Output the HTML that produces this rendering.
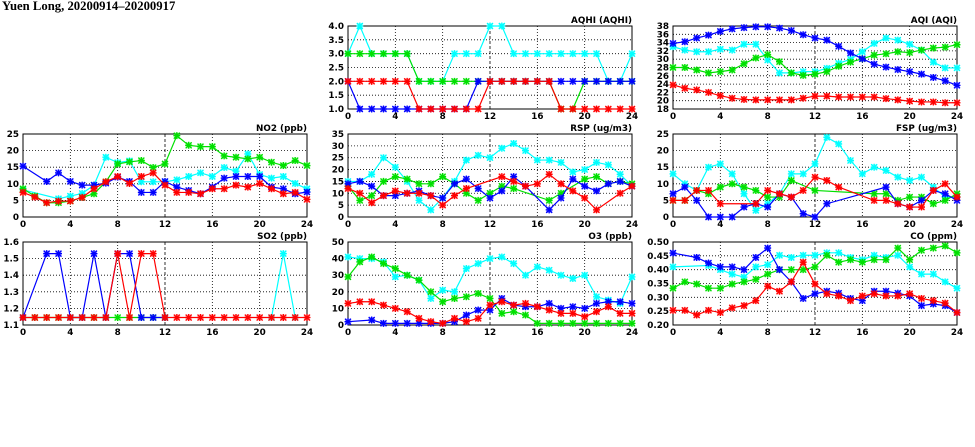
<!DOCTYPE html>
<html><head><meta charset="utf-8"><style>
body{margin:0;background:#fff;}
svg{display:block;}
text{font-family:"DejaVu Sans","Liberation Sans",sans-serif;font-weight:bold;font-size:8.8px;fill:#000;}
</style></head><body>
<svg id="s" width="975" height="447" xmlns="http://www.w3.org/2000/svg">
<text x="2" y="10" style="font-family:'Liberation Serif',serif;font-size:12.7px">Yuen Long, 20200914–20200917</text>
</svg>
<script>
const N=null;
const panels=[
{x0:348,y0:26,t:"AQHI (AQHI)",min:1,max:4,step:0.5,dec:1,s:{
c:[3,4,3,3,3,3,2,2,2,3,3,3,4,4,3,3,3,3,3,3,3,3,2,2,3],
g:[3,3,3,3,3,3,2,2,2,2,2,2,2,2,2,2,2,2,1,1,2,2,2,2,2],
b:[2,1,1,1,1,1,1,1,1,1,1,2,2,2,2,2,2,2,2,2,2,2,2,2,2],
r:[2,2,2,2,2,2,1,1,1,1,1,1,2,2,2,2,2,2,1,1,1,1,1,1,1]}},
{x0:673,y0:26,t:"AQI (AQI)",min:18,max:38,step:2,dec:0,s:{
b:[33.8,34.2,35.1,35.8,36.7,37.3,37.6,37.8,37.8,37.5,36.9,35.9,35.1,34.6,33.1,31.5,30.1,28.8,28.1,27.5,27,26.4,25.6,24.8,23.7],
c:[33,32.2,31.8,31.8,32.4,32.2,33.6,33.6,29.8,26.7,26.7,27,27,27.8,29,30,31.8,33.8,35.1,34.6,33.6,32.2,29.3,27.9,27.9],
g:[28,28,27.4,26.7,27,27.4,28.9,30.3,31.1,29.4,26.7,26.1,26.4,27,28.3,29.3,30.1,31,31.3,31.8,31.6,32.2,32.7,32.9,33.5],
r:[23.8,23,22.6,22,21.2,20.6,20.3,20.2,20.2,20.2,20.2,20.6,21.1,21.1,20.9,20.9,20.9,20.9,20.5,20.2,19.9,19.7,19.7,19.5,19.5]}},
{x0:23,y0:134,t:"NO2 (ppb)",min:0,max:25,step:5,dec:0,s:{
c:[8.2,N,N,5.5,6.3,7.1,9.6,18,16.4,16.9,10.6,10.6,10.6,11.2,12.2,13.3,12.2,14.9,13.8,19,12.8,11.7,12.2,10.1,8.5],
b:[15.3,N,10.7,13.3,10.7,9.6,9.6,10.2,12,10.7,7.4,7.4,10.7,9,8,7,9,11.7,12.2,12.2,12.2,9,8.5,7,7.5],
g:[8.5,6.3,4.3,4.3,4.8,5.9,7,10.6,16,16.6,17,14.9,16,24.5,21.6,21.2,21.2,18.4,18,17.5,18,16.5,15.5,17,15.5],
r:[7.4,6,4.3,4.8,4.8,5.9,8.5,10.6,12.2,10.1,12.2,13.3,9.6,7.4,7.4,7,8.5,8.5,9.6,9,10.1,8.5,7,7.4,5.3]}},
{x0:348,y0:134,t:"RSP (ug/m3)",min:0,max:35,step:5,dec:0,s:{
c:[15,15,18,25,21,15,7,3,8,15,24,26,25,29,31,28,24,24,23,19,20,23,22,18,13],
b:[14,15,13,9,9,10,11,9,8,14,16,12,8,11,17,13,N,3,8,16,13,11,14,15,13],
g:[13,7,9,15,17,16,14,14,17,14,10,7,10,13,12,N,N,7,10,N,16,17,14,15,14],
r:[12,10,6,9,11,10,10,9,5,9,12,N,N,17,15,13,14,18,14,11,8,3,N,10,13]}},
{x0:673,y0:134,t:"FSP (ug/m3)",min:0,max:25,step:5,dec:0,s:{
c:[13,10,8,15,16,13,7,2,4,7,13,13,16,24,22,17,13,15,14,12,11,12,9,6,6],
b:[7,9,5,0,0,0,3,4,3,7,6,1,0,4,N,N,N,N,9,4,3,5,8,7,5],
g:[5,5,8,7,9,10,9,8,6,6,11,N,8,N,N,N,N,7,7,5,6,6,4,5,7],
r:[5,5,8,8,4,N,N,4,8,7,6,8,12,11,9,N,N,5,5,4,3,3,8,10,6]}},
{x0:23,y0:242,t:"SO2 (ppb)",min:1.1,max:1.6,step:0.1,dec:1,s:{
c:[N,N,N,N,N,N,N,N,N,N,N,N,N,N,N,N,N,N,N,N,N,1.145,1.53,1.145,N],
g:[1.145,1.145,1.145,1.145,1.145,1.145,1.145,1.145,1.145,1.145,1.145,1.145,1.145,N,N,N,N,N,N,N,N,N,N,N,N],
b:[1.145,N,1.53,1.53,1.145,1.145,1.53,1.145,1.53,1.53,1.145,1.145,1.145,N,N,N,N,N,N,N,N,N,N,N,N],
r:[1.145,1.145,1.145,1.145,1.145,1.145,1.145,1.145,1.53,1.145,1.53,1.53,1.145,1.145,1.145,1.145,1.145,1.145,1.145,1.145,1.145,1.145,1.145,1.145,1.145]}},
{x0:348,y0:242,t:"O3 (ppb)",min:0,max:50,step:10,dec:0,s:{
c:[41,40,40,38,29,30,27,16,21,20,34,37,40,41,37,30,35,33,30,28,30,17,15,13,29],
g:[29,38,41,37,34,30,27,20,14,16,17,19,16,7,8,6,1,1,1,1,1,1,1,1,1],
r:[13,14,14,12,10,8,4,2,1,4,2,4,12,14,12,13,11,9,7,7,5,8,11,7,7],
b:[2,N,3,1,1,1,1,1,1,2,6,9,9,16,12,11,11,13,10,11,10,13,14,14,13]}},
{x0:673,y0:242,t:"CO (ppm)",min:0.2,max:0.5,step:0.05,dec:2,s:{
c:[.41,N,N,.415,.40,.384,.373,.41,.418,.452,.444,.452,.452,.461,.461,.444,.436,.452,.444,.452,.41,.384,.384,.356,.333],
g:[.333,.356,.348,.333,.333,.348,.356,.365,.384,.40,.40,.40,.41,.452,.427,.436,.427,.436,.436,.478,.436,.47,.478,.486,.461],
b:[.46,N,.444,.424,.41,.41,.40,.444,.478,.40,.356,.296,.313,.322,.315,.296,.288,.322,.322,.315,.305,.27,.276,.27,.245],
r:[.253,.253,.236,.253,.245,.262,.27,.288,.34,.322,.356,.427,.348,.313,.305,.288,.305,.313,.305,.305,.313,.296,.288,.279,.245]}}
];
const col={c:"#00ffff",g:"#00e000",b:"#0000ff",r:"#ff0000"};
const W=284,H=83;let out="";
for(const p of panels){
 const X=h=>p.x0+h*W/24, Y=v=>p.y0+H-(v-p.min)/(p.max-p.min)*H;
 const nt=Math.round((p.max-p.min)/p.step);
 for(let i=0;i<=nt;i++){const v=p.min+i*p.step,y=Y(v);
  if(i>0&&i<nt)out+=`<line x1="${p.x0}" x2="${p.x0+W}" y1="${y}" y2="${y}" stroke="#000" stroke-width="0.8" stroke-dasharray="1,2"/>`;
  out+=`<text x="${p.x0-4}" y="${y+3}" text-anchor="end">${v.toFixed(p.dec)}</text>`;}
 for(let h=0;h<=24;h+=4){const x=X(h);
  if(h>0&&h<24)out+=`<line x1="${x}" x2="${x}" y1="${p.y0}" y2="${p.y0+H}" stroke="#000" stroke-width="0.8" stroke-dasharray="${h==12?'3,2':'1,2'}"/>`;
  out+=`<text x="${x}" y="${p.y0+H+10}" text-anchor="middle">${h}</text>`;}
 out+=`<rect x="${p.x0}" y="${p.y0}" width="${W}" height="${H}" fill="none" stroke="#000" stroke-width="1"/>`;
 out+=`<text x="${p.x0+W}" y="${p.y0-3}" text-anchor="end">${p.t}</text>`;
 out+=`<svg x="${p.x0-4}" y="${p.y0-4}" width="${W+8}" height="${H+8}" overflow="hidden"><g transform="translate(${4-p.x0},${4-p.y0})">`;
 for(const k of ["c","g","b","r"]){const d=p.s[k];if(!d)continue;
  let pts=[];for(let h=0;h<25;h++)if(d[h]!==N)pts.push([X(h),Y(d[h])]);
  out+=`<polyline points="${pts.map(q=>q.join(',')).join(' ')}" fill="none" stroke="${col[k]}" stroke-width="1.2"/>`;
  for(const [x,y] of pts){out+=`<rect x="${x-3}" y="${y-3}" width="6" height="6" fill="${col[k]}" opacity="0.35"/><path d="M${x-3},${y-3}L${x+3},${y+3}M${x-3},${y+3}L${x+3},${y-3}M${x},${y-3.5}V${y+3.5}M${x-3.5},${y}H${x+3.5}" stroke="${col[k]}" stroke-width="1.3"/>`;}
 }
 out+=`</g></svg>`;
}
document.getElementById("s").insertAdjacentHTML("beforeend",out);
</script>
</body></html>
